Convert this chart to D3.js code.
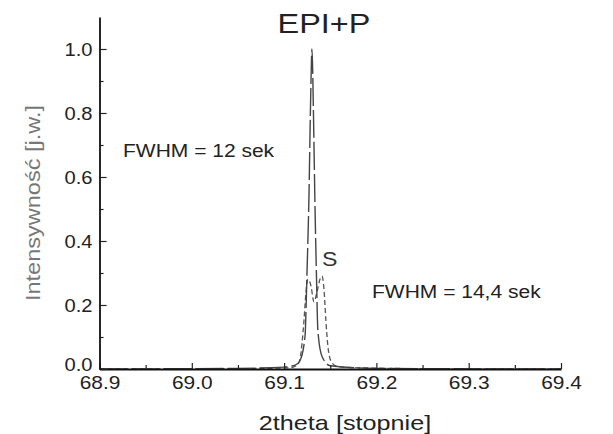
<!DOCTYPE html>
<html>
<head>
<meta charset="utf-8">
<script src="https://cdn.jsdelivr.net/npm/d3@7"></script>
<style>
  html, body { margin: 0; padding: 0; background: #fff; }
  svg { display: block; font-family: "Liberation Sans", Arial, sans-serif; }
</style>
</head>
<body>
<svg id="chart" width="613" height="434"></svg>
<script>
// Tick values
const xMajorTicks = [68.9, 69.0, 69.1, 69.2, 69.3, 69.4];
const xMinorTicks = [68.95, 69.05, 69.15, 69.25, 69.35];
const yMajorTicks = [0.0, 0.2, 0.4, 0.6, 0.8, 1.0];
const yMinorTicks = [0.1, 0.3, 0.5, 0.7, 0.9];

// EPI+P reflection profile
const epiTheta = [68.90, 69.05, 69.10, 69.112, 69.117, 69.1226, 69.1248, 69.1270, 69.1286, 69.1302,
                  69.1318, 69.1334, 69.1350, 69.1366, 69.1410, 69.150, 69.20, 69.40];
const epiInt   = [0.0, 0.002, 0.006, 0.012, 0.025, 0.10, 0.30, 0.55, 0.82, 1.0,
                  0.80, 0.52, 0.30, 0.12, 0.04, 0.01, 0.002, 0.0];

// S (substrate) reflection profile
const sTheta = [68.90, 69.05, 69.1064, 69.1140, 69.1172, 69.1194, 69.1215, 69.1237, 69.1259, 69.1291,
                69.1323, 69.1356, 69.1388, 69.1410, 69.1432, 69.1453, 69.1475, 69.1507, 69.1561, 69.1680,
                69.25, 69.40];
const sInt   = [0.0, 0.001, 0.004, 0.012, 0.03, 0.08, 0.15, 0.24, 0.28, 0.26,
                0.21, 0.24, 0.28, 0.29, 0.25, 0.15, 0.07, 0.025, 0.01, 0.005,
                0.001, 0.0];

const svg = d3.select("#chart");

const x = d3.scaleLinear().domain([68.9, 69.4]).range([99.5, 561]);
const y = d3.scaleLinear().domain([0, 1.1]).range([369, 17]);

const line = d3.line()
  .x(d => x(d[0]))
  .y(d => y(d[1]))
  .curve(d3.curveMonotoneX);

// Widen a text's glyphs by a factor while keeping its anchor
function widen(sel, factor) {
  sel.each(function () {
    const len = this.getComputedTextLength();
    d3.select(this)
      .attr("textLength", len * factor)
      .attr("lengthAdjust", "spacingAndGlyphs");
  });
  return sel;
}

// Profiles
svg.append("path")
  .datum(sTheta.map((t, i) => [t, sInt[i]]))
  .attr("d", line)
  .attr("fill", "none")
  .attr("stroke", "#555")
  .attr("stroke-width", 1.3)
  .attr("stroke-dasharray", "5,3");

svg.append("path")
  .datum(epiTheta.map((t, i) => [t, epiInt[i]]))
  .attr("d", line)
  .attr("fill", "none")
  .attr("stroke", "#444")
  .attr("stroke-width", 1.4)
  .attr("stroke-dasharray", "28,4");

// Axes
const fmt = d3.format(".1f");

const xAxis = svg.append("g")
  .attr("transform", `translate(0,${y(0)})`)
  .call(d3.axisBottom(x).tickValues(xMajorTicks).tickFormat(fmt)
    .tickSizeInner(-6).tickSizeOuter(0).tickPadding(4));
svg.append("g")
  .attr("transform", `translate(0,${y(0)})`)
  .call(d3.axisBottom(x).tickValues(xMinorTicks).tickFormat("")
    .tickSizeInner(-4).tickSizeOuter(0))
  .select(".domain").remove();

const yAxis = svg.append("g")
  .attr("transform", `translate(${x(68.9)},0)`)
  .call(d3.axisLeft(y).tickValues(yMajorTicks).tickFormat(fmt)
    .tickSizeInner(-7).tickSizeOuter(0).tickPadding(7));
svg.append("g")
  .attr("transform", `translate(${x(68.9)},0)`)
  .call(d3.axisLeft(y).tickValues(yMinorTicks).tickFormat("")
    .tickSizeInner(-4).tickSizeOuter(0))
  .select(".domain").remove();

svg.selectAll(".domain").attr("stroke", "#111").attr("stroke-width", 1.8);
svg.selectAll(".tick line").attr("stroke", "#222").attr("stroke-width", 1.2);
svg.selectAll(".tick text")
  .attr("font-family", "'Liberation Sans', Arial, sans-serif")
  .attr("font-size", 19)
  .attr("fill", "#222");
xAxis.selectAll(".tick text").attr("dy", "0.82em");
yAxis.selectAll(".tick text").attr("dy", d => d === 0 ? "0.08em" : "0.36em");
widen(xAxis.selectAll(".tick text"), 1.1);
widen(yAxis.selectAll(".tick text"), 1.06);

// Axis titles
widen(svg.append("text")
  .attr("x", 345).attr("y", 430)
  .attr("text-anchor", "middle")
  .attr("font-size", 21)
  .attr("fill", "#222")
  .text("2theta [stopnie]"), 1.2);

widen(svg.append("text")
  .attr("transform", "translate(40,203) rotate(-90)")
  .attr("text-anchor", "middle")
  .attr("font-size", 21)
  .attr("fill", "#777")
  .text("Intensywność [j.w.]"), 1.12);

// Annotations
widen(svg.append("text")
  .attr("x", 324).attr("y", 33)
  .attr("text-anchor", "middle")
  .attr("font-size", 27)
  .attr("fill", "#222")
  .text("EPI+P"), 1.2);

widen(svg.append("text")
  .attr("x", 322).attr("y", 266)
  .attr("font-size", 21)
  .attr("fill", "#333")
  .text("S"), 1.1);

widen(svg.append("text")
  .attr("x", 123).attr("y", 157)
  .attr("font-size", 17.5)
  .attr("fill", "#222")
  .text("FWHM = 12 sek"), 1.2);

widen(svg.append("text")
  .attr("x", 372).attr("y", 298)
  .attr("font-size", 17.5)
  .attr("fill", "#222")
  .text("FWHM = 14,4 sek"), 1.2);
</script>
</body>
</html>
